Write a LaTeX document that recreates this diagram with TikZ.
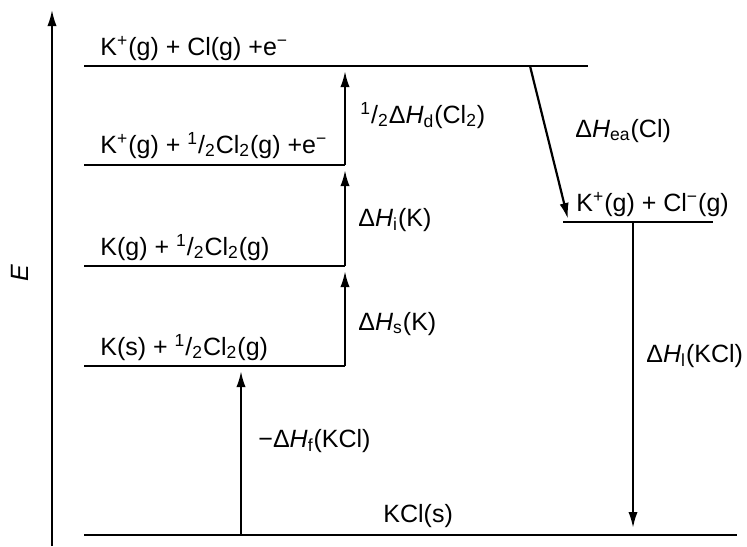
\documentclass[tikz,border=0pt]{standalone}
\usepackage{fontspec}
\setmainfont{Liberation Sans}
\usetikzlibrary{arrows.meta,positioning}
\newcommand{\half}{\textsuperscript{1}/\textsubscript{2}}
\newcommand{\dH}[1]{Δ\textit{H}\textsubscript{#1}}

\begin{document}
\begin{tikzpicture}[x=0.5pt,y=-0.5pt,font=\fontsize{12.5}{15}\selectfont,
      lvl/.style={line width=1.1pt},
      stp/.style={-{Latex[length=8pt,width=4.6pt]},line width=1.1pt},
      lab/.style={anchor=base west,inner sep=0pt}]

    \useasboundingbox (0,0) rectangle (747,546);

    % energy axis
    \coordinate (ax0) at (52,546);
    \coordinate (ax1) at (52,10);
    \draw[-{Latex[length=8pt,width=4.6pt]},line width=0.9pt] (ax0) -- (ax1);
    \node[rotate=90,font=\fontsize{12.5}{15}\selectfont\itshape] (elab) at (20,273) {E};

    % levels
    \coordinate (l0a) at (84,535);  \coordinate (l0b) at (737,535);
    \coordinate (l1a) at (84,366);  \coordinate (l1b) at (345,366);
    \coordinate (l2a) at (84,266);  \coordinate (l2b) at (345,266);
    \coordinate (l3a) at (84,165);  \coordinate (l3b) at (345,165);
    \coordinate (l4a) at (84,66);   \coordinate (l4b) at (588,66);
    \coordinate (l5a) at (563,222); \coordinate (l5b) at (713,222);

    \draw[lvl] (l0a) -- (l0b);
    \draw[lvl] (l1a) -- (l1b);
    \draw[lvl] (l2a) -- (l2b);
    \draw[lvl] (l3a) -- (l3b);
    \draw[lvl] (l4a) -- (l4b);
    \draw[lvl] (l5a) -- (l5b);

    \node[lab] (t0) at (383,522) {KCl(s)};
    \node[lab] (t1) at (100,355) {K(s) + \half Cl\textsubscript{2}(g)};
    \node[lab] (t2) at (100,255) {K(g) + \half Cl\textsubscript{2}(g)};
    \node[lab] (t3) at (100,153) {K\textsuperscript{+}(g) + \half Cl\textsubscript{2}(g) +e\textsuperscript{−}};
    \node[lab] (t4) at (100,55) {K\textsuperscript{+}(g) + Cl(g) +e\textsuperscript{−}};
    \node[lab] (t5) at (576,211) {K\textsuperscript{+}(g) + Cl\textsuperscript{−}(g)};

    % steps of the cycle
    \coordinate (f0) at (241,535);  \coordinate (f1) at (241,371);
    \coordinate (s1) at (345,271);
    \coordinate (i1) at (345,170);
    \coordinate (d1) at (345,71);
    \coordinate (e0) at (530,66);   \coordinate (e1) at (568,219);
    \coordinate (u0) at (633,222);  \coordinate (u1) at (633,528);

    \draw[stp] (f0) -- (f1);
    \draw[stp] (l1b) -- (s1);
    \draw[stp] (l2b) -- (i1);
    \draw[stp] (l3b) -- (d1);
    \draw[stp] (e0) -- (e1);
    \draw[stp] (u0) -- (u1);

    \node[lab] (hf) at (258,447) {−\dH{f}(KCl)};
    \node[lab] (hs) at (358,330) {\dH{s}(K)};
    \node[lab] (hi) at (358,226) {\dH{i}(K)};
    \node[lab] (hd) at (360,123) {\half\dH{d}(Cl\textsubscript{2})};
    \node[lab] (he) at (575,137) {\dH{ea}(Cl)};
    \node[lab] (hl) at (646,362) {\dH{l}(KCl)};
  \end{tikzpicture}
\end{document}
